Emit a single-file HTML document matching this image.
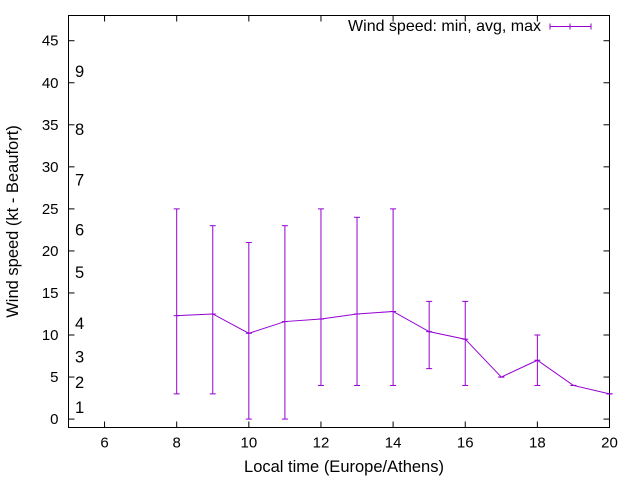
<!DOCTYPE html>
<html><head><meta charset="utf-8"><style>
body{margin:0;background:#fff}
svg text{font-family:"Liberation Sans",sans-serif;font-size:15px;fill:#000}
svg text.big{font-size:16.5px}
</style></head><body>
<svg id="c" width="640" height="480">
<g id="axes"></g><g id="plot"></g>
</svg>
<script>
const hours=[8,9,10,11,12,13,14,15,16,17,18,19,20];
const avgSpeed=[12.3,12.5,10.2,11.6,11.9,12.5,12.8,10.4,9.5,5,7,4,3];
const minSpeed=[3,3,0,0,4,4,4,6,4,5,4,4,3];
const maxSpeed=[25,23,21,23,25,24,25,14,14,5,10,4,3];
const xTicks=[6,8,10,12,14,16,18,20];
const yTicks=[0,5,10,15,20,25,30,35,40,45];
const beaufortLabels=["1","2","3","4","5","6","7","8","9"];
const beaufortSpeeds=[1.3,4.3,7.3,11.3,17.4,22.4,28.4,34.4,41.3];
const L=68.5,R=609.5,T=15.5,B=427.5,X0=5,X1=20,Y0=-1,Y1=48;
const sx=v=>L+(v-X0)/(X1-X0)*(R-L), sy=v=>B-(v-Y0)/(Y1-Y0)*(B-T);
const NS="http://www.w3.org/2000/svg";
function mk(p,t,a,txt){const e=document.createElementNS(NS,t);for(const k in a)e.setAttribute(k,a[k]);if(txt!=null)e.textContent=txt;p.appendChild(e);return e;}
const ax=document.getElementById('axes'),pl=document.getElementById('plot');
let e=mk(ax,'rect',{x:L,y:T,width:R-L,height:B-T,fill:'none',stroke:'#000','stroke-width':1});


xTicks.forEach(v=>{const x=sx(v);
 mk(ax,'line',{x1:x,x2:x,y1:B,y2:B-6,stroke:'#000'});mk(ax,'line',{x1:x,x2:x,y1:T,y2:T+6,stroke:'#000'});
 e=mk(ax,'text',{x:x,y:B+20,'text-anchor':'middle'},v);
 
 });
yTicks.forEach(v=>{const y=sy(v);
 mk(ax,'line',{x1:L,x2:L+6,y1:y,y2:y,stroke:'#000'});mk(ax,'line',{x1:R,x2:R-6,y1:y,y2:y,stroke:'#000'});
 e=mk(ax,'text',{x:L-10,y:y+5,'text-anchor':'end'},v);
 
 });
beaufortLabels.forEach((b,i)=>{e=mk(ax,'text',{x:75,y:sy(beaufortSpeeds[i])+5,class:'big'},b);
 
 });
e=mk(ax,'text',{x:(L+R)/2+5,y:472,'text-anchor':'middle',class:'big'},'Local time (Europe/Athens)');


e=mk(ax,'text',{x:18,y:(T+B)/2,'text-anchor':'middle',class:'big',transform:'rotate(-90 18 '+((T+B)/2)+')'},'Wind speed (kt - Beaufort)');


const C='#9400d3';
mk(pl,'polyline',{points:hours.map((h,i)=>sx(h)+','+sy(avgSpeed[i])).join(' '),fill:'none',stroke:C});
hours.forEach((h,i)=>{const x=sx(h);const g=mk(pl,'g',{stroke:C});
 
 
 mk(g,'line',{x1:x,x2:x,y1:sy(minSpeed[i]),y2:sy(maxSpeed[i])});
 mk(g,'line',{x1:x-3,x2:x+3,y1:sy(minSpeed[i]),y2:sy(minSpeed[i])});
 mk(g,'line',{x1:x-3,x2:x+3,y1:sy(maxSpeed[i]),y2:sy(maxSpeed[i])});
 mk(g,'line',{x1:x-3,x2:x+3,y1:sy(avgSpeed[i]),y2:sy(avgSpeed[i])});});
const lg=mk(pl,'g',{});


mk(lg,'text',{x:541,y:31,'text-anchor':'end',style:'font-size:16px'},'Wind speed: min, avg, max');
mk(lg,'line',{x1:550,x2:591,y1:26.5,y2:26.5,stroke:C});
[550,570,591].forEach(x=>mk(lg,'line',{x1:x,x2:x,y1:23.5,y2:29.5,stroke:C}));
</script>
</body></html>
